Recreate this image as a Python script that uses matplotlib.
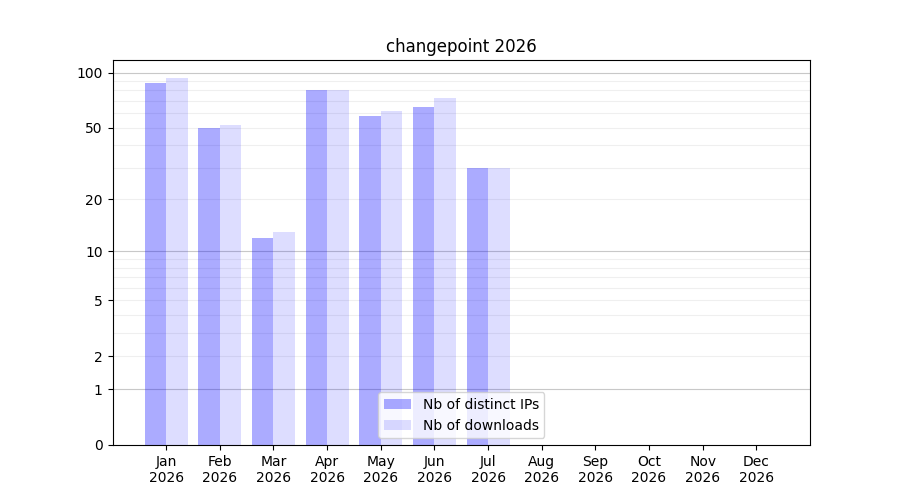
import numpy as np
import matplotlib
matplotlib.use("Agg")
import matplotlib.pyplot as plt

# monthly stats
months = ["Jan", "Feb", "Mar", "Apr", "May", "Jun", "Jul", "Aug", "Sep", "Oct", "Nov", "Dec"]
year = "2026"
distinct_ips = [88, 50, 12, 80, 58, 65, 30, 0, 0, 0, 0, 0]
downloads = [93, 52, 13, 80, 62, 73, 30, 0, 0, 0, 0, 0]

major_ticks = [0, 1, 2, 5, 10, 20, 50, 100]
major_grid = [1, 10, 100]
minor_grid = [2, 3, 4, 5, 6, 7, 8, 9, 20, 30, 40, 50, 60, 70, 80, 90]


def fwd(v):
    return np.log10(1 + np.clip(v, 0, None))


def inv(v):
    return 10 ** v - 1


fig, ax = plt.subplots(figsize=(9, 5), dpi=100)
x = np.arange(len(months))
w = 0.4

ax.set_yscale("function", functions=(fwd, inv))

for g in major_grid:
    ax.axhline(g, color="#c8c8c8", linewidth=0.8, zorder=0)
for g in minor_grid:
    ax.axhline(g, color="#efefef", linewidth=0.8, zorder=0)

ax.bar(x, distinct_ips, width=-w, align="edge", color="blue", alpha=0.33,
       label="Nb of distinct IPs", zorder=2)
ax.bar(x, downloads, width=w, align="edge", color="blue", alpha=0.135,
       label="Nb of downloads", zorder=2)

ax.set_ylim(0, 117)
ax.set_xlim(-1, 12)
ax.set_yticks(major_ticks)
ax.set_yticklabels([str(t) for t in major_ticks])
ax.yaxis.set_minor_locator(matplotlib.ticker.NullLocator())
ax.set_xticks(x)
ax.set_xticklabels([f"{m}\n{year}" for m in months])

ax.set_title("changepoint 2026")
ax.legend(loc="lower center")

fig.savefig("out.png")
